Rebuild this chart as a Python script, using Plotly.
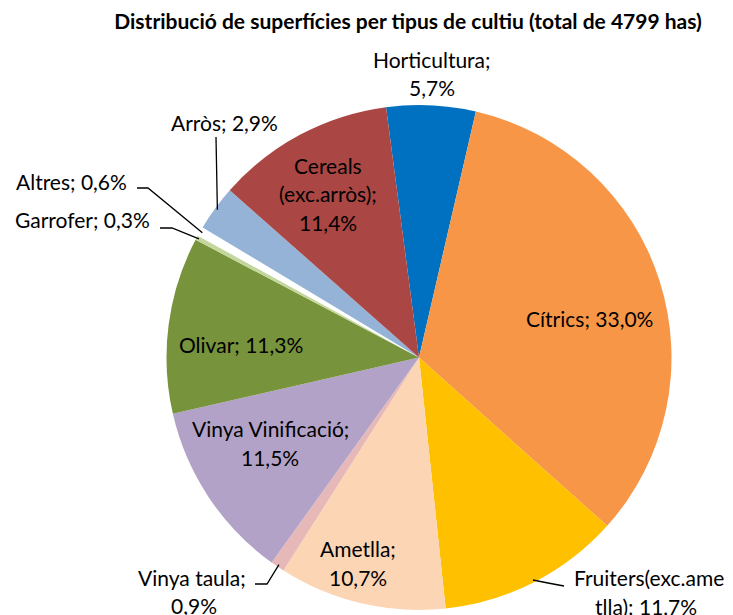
import math
import plotly.graph_objects as go

W, H = 733, 615

categories = ["Horticultura", "Cítrics", "Fruiters(exc.ametlla)", "Ametlla", "Vinya taula",
              "Vinya Vinificació", "Olivar", "Garrofer", "Altres", "Arròs", "Cereals (exc.arròs)"]
percent = [5.7, 33.0, 11.7, 10.7, 0.9, 11.5, 11.3, 0.3, 0.6, 2.9, 11.4]
colors = ["#0070C0", "#F79646", "#FFC000", "#FCD5B5", "#E6B9B8",
          "#B3A2C7", "#77933C", "#C3D69B", "#FFFFFF", "#95B3D7", "#AA4643"]
title_text = "Distribució de superfícies per tipus de cultiu (total de 4799 has)"

# label layout: line break positions (character index in full label) and line centres (px)
label_breaks = {
    "Horticultura": [13],
    "Cítrics": [],
    "Fruiters(exc.ametlla)": [16],
    "Ametlla": [8],
    "Vinya taula": [12],
    "Vinya Vinificació": [18],
    "Olivar": [],
    "Garrofer": [],
    "Altres": [],
    "Arròs": [],
    "Cereals (exc.arròs)": [7, 20],
}
label_pos = {
    "Horticultura": [(432, 60), (432, 88)],
    "Cítrics": [(589, 318)],
    "Fruiters(exc.ametlla)": [(649, 577), (646, 606)],
    "Ametlla": [(358, 548), (358, 577)],
    "Vinya taula": [(192, 577), (194, 605)],
    "Vinya Vinificació": [(270, 428), (270, 457)],
    "Olivar": [(241, 344)],
    "Garrofer": [(82, 220)],
    "Altres": [(71, 181)],
    "Arròs": [(224, 123)],
    "Cereals (exc.arròs)": [(328, 165), (328, 193), (328, 222)],
}
# leader line elbows (px), ending on the slice edge
leaders = {
    "Arròs": [(216, 137)],
    "Altres": [(137, 188), (148, 188)],
    "Garrofer": [(160, 228), (172, 228)],
    "Vinya taula": [(255, 584), (267, 584)],
    "Fruiters(exc.ametlla)": [(564, 586), (548, 583)],
}

CX, CY, R = 419, 357.5, 252.5
ROT = -7.5
FONT = "Lato, Carlito, Calibri, sans-serif"


def px(x, y):
    return x / W, 1 - y / H


fig = go.Figure(go.Pie(
    labels=categories, values=percent, sort=False, direction="clockwise",
    rotation=ROT, textinfo="none", hole=0,
    marker=dict(colors=colors, line=dict(width=0)),
    domain=dict(x=[(CX - R) / W, (CX + R) / W], y=[1 - (CY + R) / H, 1 - (CY - R) / H]),
    showlegend=False,
))

total = sum(percent)
annotations = []
shapes = []
cum = 0.0
font = dict(family=FONT, size=21, color="#000000")
for name, v in zip(categories, percent):
    a0 = ROT + cum / total * 360
    cum += v
    a1 = ROT + cum / total * 360
    mid = math.radians((a0 + a1) / 2)
    full = f"{name}; " + f"{v:.1f}".replace(".", ",") + "%"
    pieces = []
    start = 0
    for b in label_breaks[name]:
        pieces.append(full[start:b].strip())
        start = b
    pieces.append(full[start:].strip())
    for text, (x, y) in zip(pieces, label_pos[name]):
        xx, yy = px(x, y)
        annotations.append(dict(x=xx, y=yy, xref="paper", yref="paper", text=text,
                                showarrow=False, xanchor="center", yanchor="middle", font=font))
    if name in leaders:
        ex = CX + R * 0.99 * math.sin(mid)
        ey = CY - R * 0.99 * math.cos(mid)
        pts = [px(x, y) for x, y in leaders[name]] + [px(ex, ey)]
        path = "M " + " L ".join(f"{p[0]:.5f},{p[1]:.5f}" for p in pts)
        shapes.append(dict(type="path", xref="paper", yref="paper", path=path,
                           line=dict(color="#000000", width=1.3)))

fig.update_layout(
    width=W, height=H, margin=dict(l=0, r=0, t=0, b=0),
    paper_bgcolor="#FFFFFF", plot_bgcolor="#FFFFFF",
    title=dict(text="<b>" + title_text + "</b>", x=408 / W, y=1 - 22 / H,
               xanchor="center", yanchor="middle",
               font=dict(family=FONT, size=21, color="#000000")),
    annotations=annotations, shapes=shapes,
)

fig.write_html("out.html", config={"displayModeBar": False},
               post_script="document.body.style.margin='0';document.body.style.overflow='hidden';")
